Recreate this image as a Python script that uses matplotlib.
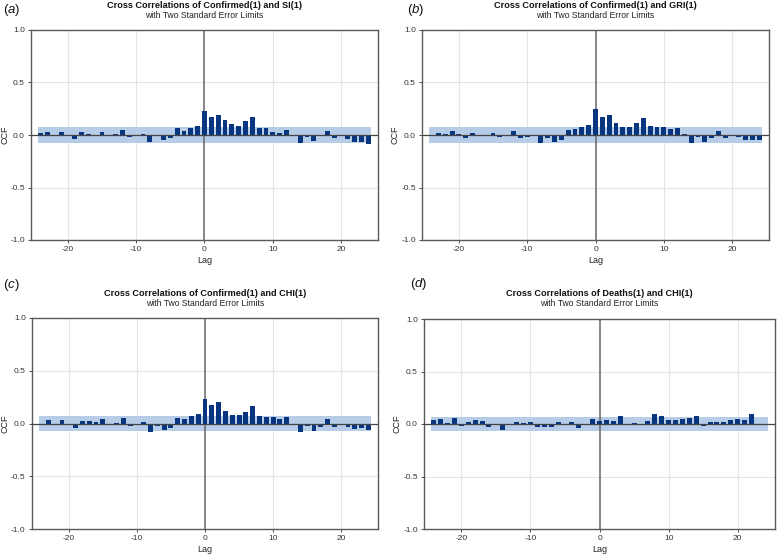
import numpy as np
import matplotlib
matplotlib.use('Agg')
import matplotlib.pyplot as plt

plt.rcParams['font.family'] = ['Liberation Sans', 'DejaVu Sans']
plt.rcParams['mathtext.fontset'] = 'custom'
plt.rcParams['mathtext.it'] = 'Liberation Sans:italic'
plt.rcParams['axes.unicode_minus'] = False

W, H = 779, 558

lags = np.arange(-24, 25)

# ccf values, lag -24 .. 24
ccf_si = [0.02, 0.03, 0.0, 0.03, 0.0, -0.035, 0.025, 0.005, 0.0, 0.03,
          0.0, 0.01, 0.05, -0.015, 0.0, 0.01, -0.07, -0.01, -0.045, -0.03,
          0.07, 0.04, 0.07, 0.085, 0.23, 0.175, 0.19, 0.14, 0.105, 0.085,
          0.135, 0.17, 0.065, 0.07, 0.025, 0.02, 0.045, -0.01, -0.075, -0.02,
          -0.06, -0.01, 0.04, -0.025, 0.0, -0.035, -0.07, -0.065, -0.09]
ccf_gri = [0.0, 0.02, 0.01, 0.04, 0.005, -0.025, 0.02, 0.0, -0.01, 0.015,
           -0.015, 0.0, 0.035, -0.03, -0.015, 0.0, -0.08, -0.03, -0.07, -0.05,
           0.05, 0.055, 0.08, 0.1, 0.245, 0.17, 0.19, 0.115, 0.075, 0.08,
           0.115, 0.165, 0.085, 0.08, 0.075, 0.06, 0.07, 0.005, -0.075, -0.015,
           -0.065, -0.025, 0.04, -0.03, -0.01, -0.02, -0.045, -0.045, -0.05]
ccf_chi = [-0.01, 0.03, 0.0, 0.03, 0.0, -0.04, 0.02, 0.025, 0.01, 0.045,
           0.0, 0.005, 0.05, -0.025, 0.0, 0.01, -0.08, -0.025, -0.065, -0.045,
           0.055, 0.045, 0.07, 0.09, 0.235, 0.175, 0.2, 0.12, 0.08, 0.085,
           0.11, 0.17, 0.07, 0.065, 0.06, 0.045, 0.06, 0.0, -0.08, -0.025,
           -0.075, -0.03, 0.04, -0.03, 0.0, -0.03, -0.055, -0.045, -0.065]
ccf_deaths = [0.04, 0.05, 0.01, 0.06, -0.02, 0.015, 0.04, 0.03, -0.025, 0.0,
              -0.06, -0.01, 0.02, 0.01, 0.02, -0.025, -0.03, -0.025, 0.02, 0.0,
              0.02, -0.04, -0.01, 0.045, 0.03, 0.04, 0.03, 0.075, -0.01, 0.01,
              -0.01, 0.03, 0.1, 0.075, 0.04, 0.04, 0.05, 0.055, 0.08, -0.015,
              0.015, 0.02, 0.02, 0.04, 0.045, 0.04, 0.1, 0.0, 0.0]

limits = [0.072, 0.072, 0.072, 0.07]
titles = ['Cross Correlations of Confirmed(1) and SI(1)',
          'Cross Correlations of Confirmed(1) and GRI(1)',
          'Cross Correlations of Confirmed(1) and CHI(1)',
          'Cross Correlations of Deaths(1) and CHI(1)']
letters = ['a', 'b', 'c', 'd']
series = [ccf_si, ccf_gri, ccf_chi, ccf_deaths]

# axes boxes in pixels: left, top, right, bottom
boxes = [(31, 30, 378, 240), (422, 30, 769, 240),
         (32, 318, 378, 529), (424, 319, 775, 529)]
label_pos = [(3, 10), (407, 10), (3, 285), (410, 284)]
ylab_x = [9, 399, 9, 401]

fig = plt.figure(figsize=(W/100, H/100), dpi=100)
fig.patch.set_facecolor('white')

bar_col = '#083580'
band_col = '#b7cce6'

for i in range(4):
    l, t, r, b = boxes[i]
    ax = fig.add_axes([l/W, 1-b/H, (r-l)/W, (b-t)/H])
    lim = limits[i]
    ax.fill_between([-24.4, 24.4], -lim, lim, color=band_col, lw=0, zorder=1)
    ax.bar(lags, series[i], width=0.72, color=bar_col, zorder=3)
    ax.axhline(0, color='#444444', lw=0.9, zorder=4)
    ax.axvline(0, color='#666666', lw=1.1, zorder=2)
    ax.set_xlim(-25.4, 25.4)
    ax.set_ylim(-1.0, 1.0)
    ax.set_xticks([-20, -10, 0, 10, 20])
    ax.set_yticks([-1.0, -0.5, 0.0, 0.5, 1.0])
    ax.set_yticklabels(['-1.0', '-0.5', '0.0', '0.5', '1.0'])
    for xg in [-20, -10, 10, 20]:
        ax.axvline(xg, color='#e4e4e4', lw=0.8, zorder=0)
    for yg in [-0.5, 0.5]:
        ax.axhline(yg, color='#e4e4e4', lw=0.8, zorder=0)
    ax.tick_params(labelsize=6, length=2.5, width=0.6, colors='#333333', pad=2)
    for s in ax.spines.values():
        s.set_color('#5a5a5a')
        s.set_linewidth(1.0)
    ax.set_xlabel('Lag', fontsize=6.5, color='#222222', labelpad=2)
    ax.set_ylabel('CCF', fontsize=6.5, color='#222222')
    ax.yaxis.set_label_coords((ylab_x[i] - l) / (r - l), 0.5)

    cx = (l + r) / 2
    fig.text(cx/W, 1-(t-25)/H, titles[i], ha='center', va='center',
             fontsize=6.6, fontweight='bold', color='#111111')
    fig.text(cx/W, 1-(t-15)/H, 'with Two Standard Error Limits', ha='center',
             va='center', fontsize=6.2, color='#222222')
    lx, ly = label_pos[i]
    fig.text(lx/W, 1-ly/H, '(' + '$\\it{' + letters[i] + '}$' + ')',
             ha='left', va='center', fontsize=9.5, color='#111111')

fig.savefig('out.png', dpi=100)
